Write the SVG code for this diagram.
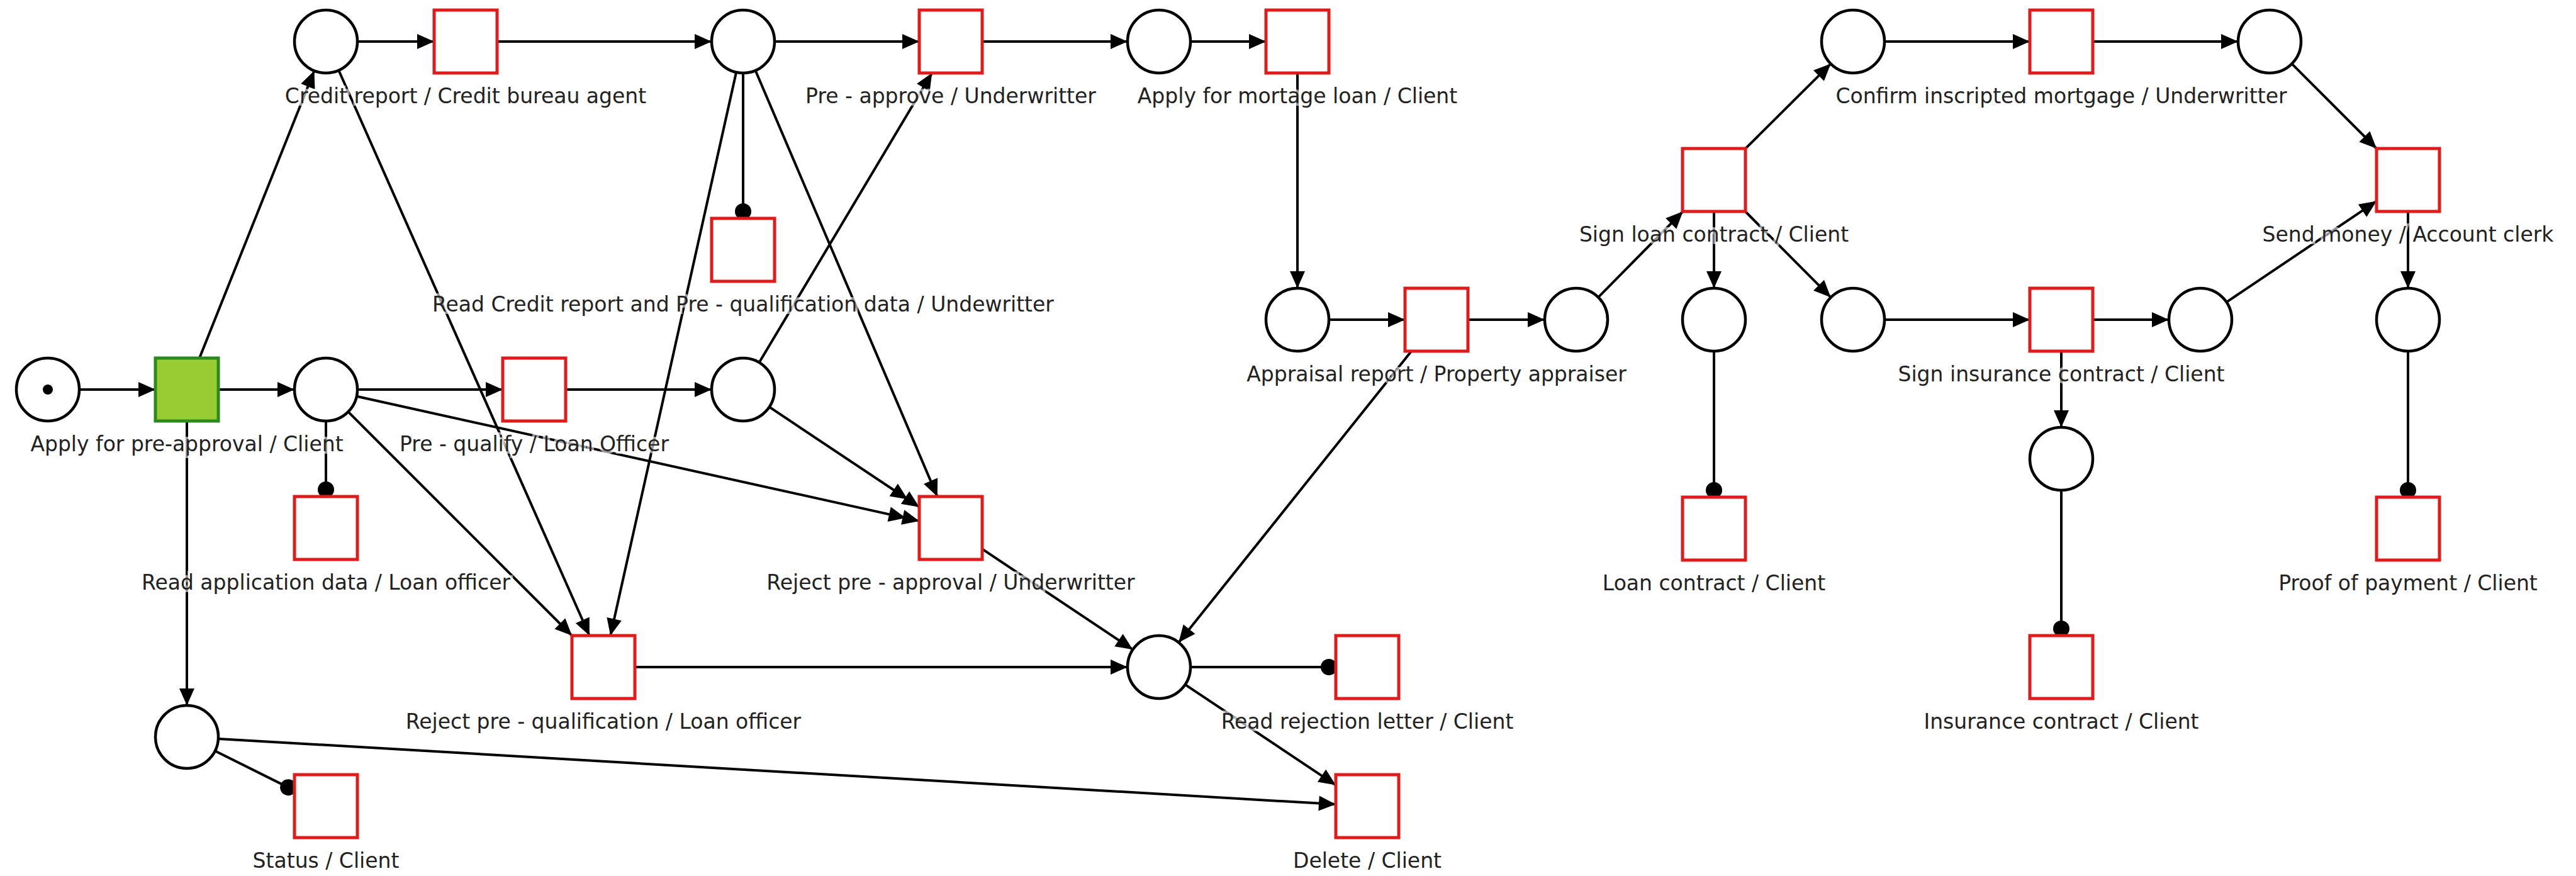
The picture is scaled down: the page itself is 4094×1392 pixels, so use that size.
<svg xmlns="http://www.w3.org/2000/svg" width="4094" height="1392" viewBox="0 0 4094 1392">
<style>
.c{stroke:#000;stroke-width:4;fill:none}
.a{marker-end:url(#arr)}
.d{marker-mid:url(#arr);marker-end:url(#arr)}
.r{marker-end:url(#dot)}
.pl{fill:#fff;stroke:#000;stroke-width:4.5}
.tr{fill:#fff;stroke:#e01b1b;stroke-width:5}
.gt{fill:#99cc33;stroke:#2b8a1e;stroke-width:5}
.lb{font-family:"DejaVu Sans",Verdana,sans-serif;font-size:33px;text-anchor:middle;fill:#222;stroke:#fff;stroke-opacity:0.6;stroke-width:8;paint-order:stroke}
</style>
<defs>
<marker id="arr" markerUnits="userSpaceOnUse" markerWidth="28" markerHeight="26" refX="27" refY="12" orient="auto" overflow="visible"><path d="M0,0 L27,12 L0,24 z" fill="#000"/></marker>
<marker id="dot" markerUnits="userSpaceOnUse" markerWidth="28" markerHeight="28" refX="24" refY="13" orient="auto" overflow="visible"><circle cx="13" cy="13" r="13" fill="#000"/></marker>
</defs>
<rect width="4094" height="1392" fill="#fff"/>
<g id="connectors">
<path class="c a" d="M126,619 L247,619"/>
<path class="c a" d="M347,619 L468,619"/>
<path class="c a" d="M317,569 L499.4,112.4"/>
<path class="c a" d="M297,669 L297,1121"/>
<path class="c r" d="M518,669 L518,789"/>
<path class="c a" d="M568,619 L799,619"/>
<path class="c a" d="M899,619 L1131,619"/>
<path class="c a" d="M553.4,654.4 L909,1010"/>
<path class="c a" d="M538.3,111.7 L936.8,1010"/>
<path class="c a" d="M1170.1,114.8 L970.2,1010"/>
<path class="c d" d="M566.8,629.8 L1439.5,823.1 L1461,827.9"/>
<path class="c d" d="M1222.6,646.7 L1442.7,793.5 L1461,805.7"/>
<path class="c a" d="M1200.6,112 L1489.7,789"/>
<path class="c a" d="M1206.6,576.1 L1481.2,116"/>
<path class="c r" d="M1181,116 L1181,347"/>
<path class="c a" d="M568,66 L690,66"/>
<path class="c a" d="M790,66 L1131,66"/>
<path class="c a" d="M1231,66 L1461,66"/>
<path class="c a" d="M1561,66 L1792,66"/>
<path class="c a" d="M1892,66 L2012,66"/>
<path class="c a" d="M2062,116 L2062,458"/>
<path class="c a" d="M2112,508 L2233,508"/>
<path class="c a" d="M2333,508 L2455,508"/>
<path class="c a" d="M2243.1,558 L1873.2,1020.9"/>
<path class="c a" d="M1561,872.4 L1800.4,1032.2"/>
<path class="c a" d="M1009,1060 L1792,1060"/>
<path class="c r" d="M1892,1060 L2123,1060"/>
<path class="c a" d="M1883.6,1087.8 L2123,1247.6"/>
<path class="c a" d="M346.9,1173.9 L2123,1278.1"/>
<path class="c r" d="M341.8,1193.3 L468,1256.1"/>
<path class="c a" d="M2540.1,472.4 L2674.7,336"/>
<path class="c a" d="M2774,236.2 L2909.6,101.3"/>
<path class="c a" d="M2724,336 L2724,458"/>
<path class="c a" d="M2773.8,336 L2909.6,472.4"/>
<path class="c a" d="M2995,66 L3226,66"/>
<path class="c a" d="M3326,66 L3557,66"/>
<path class="c a" d="M3642.4,101.4 L3777,236"/>
<path class="c a" d="M2995,508 L3226,508"/>
<path class="c a" d="M3326,508 L3447,508"/>
<path class="c a" d="M3538.5,480.1 L3777,319.6"/>
<path class="c a" d="M3827,336 L3827,458"/>
<path class="c a" d="M3276,558 L3276,679"/>
<path class="c r" d="M2724,558 L2724,790"/>
<path class="c r" d="M3276,779 L3276,1010"/>
<path class="c r" d="M3827,558 L3827,790"/>
</g>
<g id="p0"><circle class="pl" cx="76" cy="619" r="50"/><circle cx="76" cy="619" r="8" fill="#000"/></g>
<g id="t-apply"><rect class="gt" x="247" y="569" width="100" height="100"/><text class="lb" x="297" y="717">Apply for pre-approval / Client</text></g>
<g id="p1"><circle class="pl" cx="518" cy="66" r="50"/></g>
<g id="t-credit"><rect class="tr" x="690" y="16" width="100" height="100"/><text class="lb" x="740" y="164">Credit report / Credit bureau agent</text></g>
<g id="p2"><circle class="pl" cx="1181" cy="66" r="50"/></g>
<g id="t-preapprove"><rect class="tr" x="1461" y="16" width="100" height="100"/><text class="lb" x="1511" y="164">Pre - approve / Underwritter</text></g>
<g id="p3"><circle class="pl" cx="1842" cy="66" r="50"/></g>
<g id="t-applyloan"><rect class="tr" x="2012" y="16" width="100" height="100"/><text class="lb" x="2062" y="164">Apply for mortage loan / Client</text></g>
<g id="p4"><circle class="pl" cx="518" cy="619" r="50"/></g>
<g id="t-prequal"><rect class="tr" x="799" y="569" width="100" height="100"/><text class="lb" x="849" y="717">Pre - qualify / Loan Officer</text></g>
<g id="p5"><circle class="pl" cx="1181" cy="619" r="50"/></g>
<g id="t-readapp"><rect class="tr" x="468" y="789" width="100" height="100"/><text class="lb" x="518" y="937">Read application data / Loan officer</text></g>
<g id="t-readcredit"><rect class="tr" x="1131" y="347" width="100" height="100"/><text class="lb" x="1181" y="495">Read Credit report and Pre - qualification data / Undewritter</text></g>
<g id="t-rejappr"><rect class="tr" x="1461" y="789" width="100" height="100"/><text class="lb" x="1511" y="937">Reject pre - approval / Underwritter</text></g>
<g id="t-rejqual"><rect class="tr" x="909" y="1010" width="100" height="100"/><text class="lb" x="959" y="1158">Reject pre - qualification / Loan officer</text></g>
<g id="p6"><circle class="pl" cx="297" cy="1171" r="50"/></g>
<g id="t-status"><rect class="tr" x="468" y="1231" width="100" height="100"/><text class="lb" x="518" y="1379">Status / Client</text></g>
<g id="p7"><circle class="pl" cx="1842" cy="1060" r="50"/></g>
<g id="t-readrej"><rect class="tr" x="2123" y="1010" width="100" height="100"/><text class="lb" x="2173" y="1158">Read rejection letter / Client</text></g>
<g id="t-delete"><rect class="tr" x="2123" y="1231" width="100" height="100"/><text class="lb" x="2173" y="1379">Delete / Client</text></g>
<g id="p8"><circle class="pl" cx="2062" cy="508" r="50"/></g>
<g id="t-appraisal"><rect class="tr" x="2233" y="458" width="100" height="100"/><text class="lb" x="2283" y="606">Appraisal report / Property appraiser</text></g>
<g id="p9"><circle class="pl" cx="2505" cy="508" r="50"/></g>
<g id="t-signloan"><rect class="tr" x="2674" y="236" width="100" height="100"/><text class="lb" x="2724" y="384">Sign loan contract / Client</text></g>
<g id="p10"><circle class="pl" cx="2945" cy="66" r="50"/></g>
<g id="t-confirm"><rect class="tr" x="3226" y="16" width="100" height="100"/><text class="lb" x="3276" y="164">Confirm inscripted mortgage / Underwritter</text></g>
<g id="p11"><circle class="pl" cx="3607" cy="66" r="50"/></g>
<g id="t-send"><rect class="tr" x="3777" y="236" width="100" height="100"/><text class="lb" x="3827" y="384">Send money / Account clerk</text></g>
<g id="p12"><circle class="pl" cx="2724" cy="508" r="50"/></g>
<g id="p13"><circle class="pl" cx="2945" cy="508" r="50"/></g>
<g id="t-signins"><rect class="tr" x="3226" y="458" width="100" height="100"/><text class="lb" x="3276" y="606">Sign insurance contract / Client</text></g>
<g id="p14"><circle class="pl" cx="3497" cy="508" r="50"/></g>
<g id="p15"><circle class="pl" cx="3827" cy="508" r="50"/></g>
<g id="p16"><circle class="pl" cx="3276" cy="729" r="50"/></g>
<g id="t-loan"><rect class="tr" x="2674" y="790" width="100" height="100"/><text class="lb" x="2724" y="938">Loan contract / Client</text></g>
<g id="t-ins"><rect class="tr" x="3226" y="1010" width="100" height="100"/><text class="lb" x="3276" y="1158">Insurance contract / Client</text></g>
<g id="t-proof"><rect class="tr" x="3777" y="790" width="100" height="100"/><text class="lb" x="3827" y="938">Proof of payment / Client</text></g>
</svg>
